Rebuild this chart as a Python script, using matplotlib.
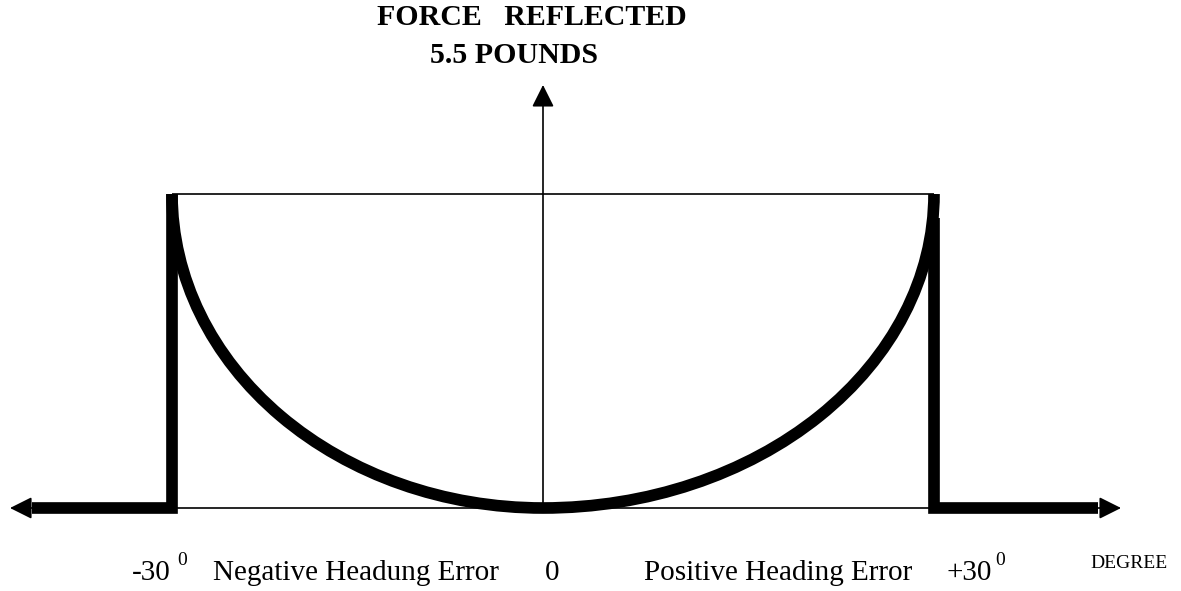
import numpy as np
import matplotlib
matplotlib.use('Agg')
import matplotlib.pyplot as plt
from matplotlib.patches import Arc

plt.rcParams['font.family'] = 'Liberation Serif'

# heading error (degrees) and reflected force (pounds)
error_limits = [-30, 30]
force_max = 5.5
right_step_top = 5.08          # right side drop starts a little below full force
axis_ends = [-43.10, 44.35]    # tips of the horizontal arrow
flat_ends = [-41.32, 42.58]    # outer ends of the zero-force segments
force_arrow_top = 7.41

# px per degree on each side of zero (sketch is not quite symmetric)
left_scale = 371 / 30
right_scale = 391 / 30
ratio = right_scale / left_scale


def fwd(x):
    x = np.asarray(x, dtype=float)
    return np.where(x < 0, x, x * ratio)


def inv(u):
    u = np.asarray(u, dtype=float)
    return np.where(u < 0, u, u / ratio)


W, H = 1181, 591
fig = plt.figure(figsize=(W / 100, H / 100), dpi=100)
ax = fig.add_axes([0, 0, 1, 1])
ax.set_xscale('function', functions=(fwd, inv))
ax.set_xlim(-543 / left_scale, 638 / right_scale)
y_px = 314 / force_max
ax.set_ylim(-(591 - 508) / y_px, 508 / y_px)
ax.axis('off')

thin = 1.2
thick = 8.4

# horizontal axis with arrows both ways
ax.annotate('', xy=(axis_ends[1], 0), xytext=(axis_ends[0], 0),
            arrowprops=dict(arrowstyle='<|-|>', mutation_scale=34, lw=thin,
                            color='black', shrinkA=0, shrinkB=0))
# vertical force axis
ax.annotate('', xy=(0, force_arrow_top), xytext=(0, 0),
            arrowprops=dict(arrowstyle='-|>', mutation_scale=34, lw=thin,
                            color='black', shrinkA=0, shrinkB=0))

# full-force line across the top
ax.plot(error_limits, [force_max, force_max], color='black', lw=thin,
        solid_capstyle='butt')

# force profile: zero outside the limits, steps at the limits, bowl between
ax.plot([flat_ends[0], error_limits[0], error_limits[0]], [0, 0, force_max],
        color='black', lw=thick, solid_joinstyle='miter', solid_capstyle='butt')
ax.plot([error_limits[1], error_limits[1], flat_ends[1]], [right_step_top, 0, 0],
        color='black', lw=thick, solid_joinstyle='miter', solid_capstyle='butt')
bowl = Arc((0, force_max), error_limits[1] - error_limits[0], 2 * force_max,
           theta1=180, theta2=360, color='black', lw=thick)
ax.add_patch(bowl)


def put(x, y, s, **kw):
    fig.text(x / W, 1 - y / H, s, va='baseline', **kw)


put(377, 25, 'FORCE   REFLECTED', fontsize=21.5, fontweight='bold')
put(430, 63, '5.5 POUNDS', fontsize=21.5, fontweight='bold')

put(171, 580, '-30', fontsize=21, ha='right')
put(177, 565, '0', fontsize=14)
put(213, 580, 'Negative Headung Error', fontsize=21)
put(545, 580, '0', fontsize=21)
put(912, 580, 'Positive Heading Error', fontsize=21, ha='right')
put(947, 580, '+30', fontsize=21)
put(995, 565, '0', fontsize=14)
put(1090, 568, 'DEGREE', fontsize=14)

fig.savefig('out.png', dpi=100)
